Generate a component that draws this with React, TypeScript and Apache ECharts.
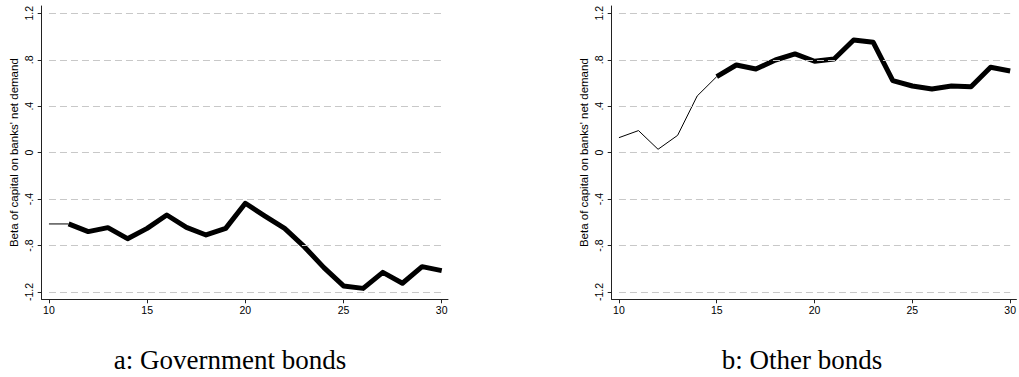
import React, { useEffect, useRef } from "react";
import * as echarts from "echarts";

const xValues = [10, 11, 12, 13, 14, 15, 16, 17, 18, 19, 20, 21, 22, 23, 24, 25, 26, 27, 28, 29, 30];
const govValues = [-0.614, -0.614, -0.68, -0.646, -0.741, -0.652, -0.537, -0.643, -0.709, -0.652, -0.436, -0.546, -0.652, -0.81, -0.99, -1.148, -1.169, -1.031, -1.125, -0.982, -1.016];
const otherValues = [0.129, 0.19, 0.029, 0.149, 0.488, 0.655, 0.755, 0.72, 0.798, 0.85, 0.787, 0.807, 0.97, 0.95, 0.62, 0.574, 0.548, 0.574, 0.568, 0.735, 0.703];
const govThickFrom = 11;
const otherThickFrom = 15;
const xTicks = [10, 15, 20, 25, 30];
const yTicks = [-1.2, -0.8, -0.4, 0, 0.4, 0.8, 1.2];
const yTickLabels = ["-1.2", "-.8", "-.4", "0", ".4", ".8", "1.2"];
const yTitle = "Beta of capital on banks' net demand";
const captions = ["a: Government bonds", "b: Other bonds"];

const SANS = "Arial, 'Liberation Sans', Helvetica, sans-serif";
const SERIF = "'Times New Roman', 'Liberation Serif', serif";

function pairs(vals: number[], from: number, to: number) {
  const out: number[][] = [];
  xValues.forEach((x, i) => {
    if (x >= from && x <= to) out.push([x, vals[i]]);
  });
  return out;
}

export default function App() {
  const ref = useRef<HTMLDivElement>(null);
  useEffect(() => {
    if (!ref.current) return;
    const chart = echarts.init(ref.current, null, { renderer: "svg" });
    const gridLefts = [41.7, 611.7];
    const grids = gridLefts.map((l) => ({ left: l, top: 6, width: 406.3, height: 293.3, containLabel: false }));
    const xAxes = grids.map((_, i) => ({
      type: "value",
      gridIndex: i,
      min: 9.63,
      max: 30.32,
      axisLine: { show: true, onZero: false, lineStyle: { color: "#222", width: 1 } },
      axisTick: { show: true, customValues: xTicks, length: 4, lineStyle: { color: "#222" } },
      axisLabel: { customValues: xTicks, color: "#000", fontSize: 10.5, fontFamily: SANS, margin: 5 },
      splitLine: { show: false },
    }));
    const yAxes = grids.map((_, i) => ({
      type: "value",
      gridIndex: i,
      min: -1.263,
      max: 1.263,
      name: yTitle,
      nameLocation: "middle",
      nameGap: 22,
      nameTextStyle: { color: "#000", fontSize: 11.5, fontFamily: SANS },
      axisLine: { show: true, onZero: false, lineStyle: { color: "#222", width: 1 } },
      axisTick: { show: true, customValues: yTicks, length: 4, lineStyle: { color: "#222" } },
      axisLabel: {
        customValues: yTicks,
        rotate: 90,
        color: "#000",
        fontSize: 10.5,
        fontFamily: SANS,
        margin: 7,
        formatter: (v: number) => {
          const idx = yTicks.findIndex((t) => Math.abs(t - v) < 1e-6);
          return idx >= 0 ? yTickLabels[idx] : "";
        },
      },
      splitLine: { show: false },
    }));
    const gridLines = (i: number) => ({
      type: "line",
      xAxisIndex: i,
      yAxisIndex: i,
      data: [],
      z: 1,
      silent: true,
      markLine: {
        silent: true,
        symbol: "none",
        label: { show: false },
        lineStyle: { color: "#c8c8c8", type: [7, 4], width: 1.2 },
        data: yTicks.map((v) => [{ coord: [xTicks[0], v] }, { coord: [xTicks[xTicks.length - 1], v] }]),
      },
    });
    const lineSeries = (i: number, vals: number[], thickFrom: number) => [
      {
        type: "line",
        xAxisIndex: i,
        yAxisIndex: i,
        data: pairs(vals, xValues[0], thickFrom),
        showSymbol: false,
        symbol: "none",
        z: 3,
        lineStyle: { color: "#000", width: 1 },
      },
      {
        type: "line",
        xAxisIndex: i,
        yAxisIndex: i,
        data: pairs(vals, thickFrom, xValues[xValues.length - 1]),
        showSymbol: false,
        symbol: "none",
        z: 4,
        lineStyle: { color: "#000", width: 5, join: "round" },
      },
    ];
    chart.setOption({
      animation: false,
      backgroundColor: "#fff",
      grid: grids,
      xAxis: xAxes,
      yAxis: yAxes,
      series: [
        gridLines(0),
        gridLines(1),
        ...lineSeries(0, govValues, govThickFrom),
        ...lineSeries(1, otherValues, otherThickFrom),
      ],
      graphic: [
        { type: "text", x: 230, y: 360, style: { text: captions[0], font: `27px ${SERIF}`, fill: "#000", textAlign: "center", textVerticalAlign: "middle" } },
        { type: "text", x: 802, y: 360, style: { text: captions[1], font: `27px ${SERIF}`, fill: "#000", textAlign: "center", textVerticalAlign: "middle" } },
      ],
    });
    return () => chart.dispose();
  }, []);
  return <div ref={ref} style={{ position: "absolute", left: 0, top: 0, width: 1019, height: 377 }} />;
}
